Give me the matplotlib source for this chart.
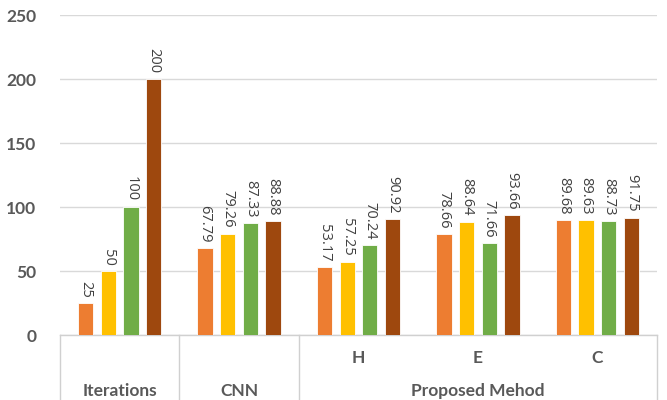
import numpy as np
import matplotlib.pyplot as plt
import matplotlib.transforms as mtransforms

plt.rcParams['font.family'] = ['Lato', 'DejaVu Sans']

# groups on the category axis and the four series in each
groups = ['Iterations', 'CNN', 'H', 'E', 'C']
series = [
    [25, 67.79, 53.17, 78.66, 89.68],
    [50, 79.26, 57.25, 88.64, 89.63],
    [100, 87.33, 70.24, 71.66, 88.73],
    [200, 88.88, 90.92, 93.66, 91.75],
]
value_labels = [
    ['25', '67.79', '53.17', '78.66', '89.68'],
    ['50', '79.26', '57.25', '88.64', '89.63'],
    ['100', '87.33', '70.24', '71.66', '88.73'],
    ['200', '88.88', '90.92', '93.66', '91.75'],
]
bar_colors = ['#ED7D31', '#FFC000', '#70AD47', '#9E480E']
y_ticks = [0, 50, 100, 150, 200, 250]

# outer label row: (text, first group, last group)
outer = [('Iterations', 0, 0), ('CNN', 1, 1), ('Proposed Mehod', 2, 4)]

fig = plt.figure(figsize=(6.67, 4), dpi=100)
ax = fig.add_axes([60 / 667, 65 / 400, 597 / 667, 320 / 400])

x = np.arange(len(groups))
slot = 0.19
width = 0.128
for i, vals in enumerate(series):
    pos = x + (i - 1.5) * slot
    bars = ax.bar(pos, vals, width, color=bar_colors[i], edgecolor='white',
                  linewidth=0.6, zorder=3)
    for b, txt in zip(bars, value_labels[i]):
        ax.annotate(txt, (b.get_x() + b.get_width() / 2, b.get_height()),
                    xytext=(0, 4), textcoords='offset points',
                    rotation=-90, ha='center', va='bottom',
                    fontsize=10.5, color='#404040',
                    family=['Open Sans', 'DejaVu Sans'])

ax.set_xlim(-0.5, len(groups) - 0.5)
ax.set_ylim(0, 250)
ax.set_yticks(y_ticks)
ax.set_yticklabels([str(t) for t in y_ticks], fontsize=12.5,
                   fontweight='bold', color='#595959')
ax.tick_params(axis='y', length=0, pad=17)
ax.set_xticks([])
ax.grid(axis='y', color='#D9D9D9', linewidth=1, zorder=0)
for s in ['top', 'right', 'left', 'bottom']:
    ax.spines[s].set_visible(False)

# two-level category axis drawn below the plot
trans = mtransforms.blended_transform_factory(ax.transData, ax.transAxes)
line_kw = dict(color='#D0D0D0', linewidth=1, clip_on=False, transform=trans)
ax.plot([-0.5, len(groups) - 0.5], [0, 0], **line_kw)
for edge in [-0.5, 0.5, 1.5, len(groups) - 0.5]:
    ax.plot([edge, edge], [0, -0.21], **line_kw)

for g in range(2, 5):
    ax.text(x[g], -0.072, groups[g], transform=trans, ha='center',
            va='center', fontsize=12.5, fontweight='bold', color='#595959')
for txt, a, b in outer:
    ax.text((x[a] + x[b]) / 2, -0.175, txt, transform=trans, ha='center',
            va='center', fontsize=12.5, fontweight='bold', color='#595959')

fig.savefig('out.png', dpi=100, facecolor='white')
